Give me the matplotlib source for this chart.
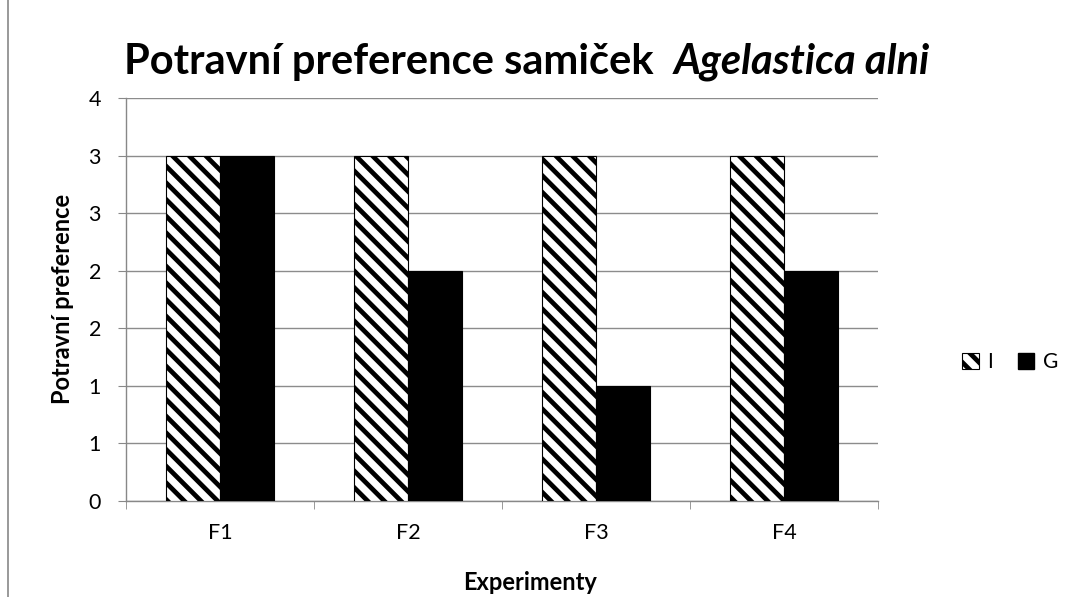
import matplotlib
matplotlib.use("Agg")
import matplotlib.pyplot as plt
import matplotlib.patches as mpatches
import numpy as np

plt.rcParams['font.family'] = ['Lato', 'DejaVu Sans']
plt.rcParams['hatch.linewidth'] = 3.4

# data
categories = ['F1', 'F2', 'F3', 'F4']
series_names = ['I', 'G']
values_I = [3.0, 3.0, 3.0, 3.0]
values_G = [3.0, 2.0, 1.0, 2.0]
y_ticks = [0, 0.5, 1.0, 1.5, 2.0, 2.5, 3.0, 3.5]
y_tick_labels = ['0', '1', '1', '2', '2', '3', '3', '4']

fig = plt.figure(figsize=(10.86, 5.97), dpi=100)
ax = fig.add_axes([126 / 1086, 96 / 597, 752 / 1086, 403 / 597])

x = np.arange(len(categories))
width = 1 / 3.5
ax.bar(x - width / 2, values_I, width, facecolor='white', edgecolor='black',
       hatch='\\\\', linewidth=0.8, label=series_names[0], zorder=3)
ax.bar(x + width / 2, values_G, width, color='black', edgecolor='black',
       linewidth=0.8, label=series_names[1], zorder=3)

ax.set_xlim(-0.5, len(categories) - 0.5)
ax.set_ylim(0, 3.5)
ax.set_yticks(y_ticks)
ax.set_yticklabels(y_tick_labels)
ax.set_xticks(x)
ax.set_xticklabels(categories)
ax.set_xticks(np.arange(-0.5, len(categories)), minor=True)
ax.tick_params(axis='x', which='major', length=0, pad=16, labelsize=15.5)
ax.tick_params(axis='x', which='minor', length=6, color='#888888', direction='out')
ax.tick_params(axis='y', length=6, color='#888888', pad=12, labelsize=15.5)

ax.grid(axis='y', color='#8c8c8c', linewidth=1.0, zorder=0)
for s in ['top', 'right']:
    ax.spines[s].set_visible(False)
for s in ['left', 'bottom']:
    ax.spines[s].set_color('#888888')
    ax.spines[s].set_linewidth(1.0)

fig.text(63 / 1086, 1 - 299 / 597, 'Potravní preference', rotation=90,
         ha='center', va='center', fontsize=17, fontweight='bold')
fig.text(530 / 1086, 1 - 583 / 597, 'Experimenty', ha='center', va='center',
         fontsize=17, fontweight='bold')

# title in two parts (bold + bold italic species name)
t1 = fig.text(124 / 1086, 1 - 62 / 597, 'Potravní preference samiček  ',
              ha='left', va='center', fontsize=30, fontweight='bold')
fig.canvas.draw()
bb = t1.get_window_extent()
fig.text(bb.x1 / fig.bbox.width, 1 - 62 / 597, 'Agelastica alni', ha='left',
         va='center', fontsize=30, fontweight='bold', style='italic')

# outer chart frame (only left and top edges visible)
fig.patches.append(mpatches.Rectangle((8 / 1086, -0.2), 2, 1.2 + 1 - 10 / 597,
                                      transform=fig.transFigure, fill=False,
                                      edgecolor='#888888', linewidth=1.2))

h1 = mpatches.Patch(facecolor='white', edgecolor='black', hatch='\\\\', linewidth=0.8)
h2 = mpatches.Patch(facecolor='black', edgecolor='black')
fig.legend([h1, h2], series_names, loc='center left',
           bbox_to_anchor=(962 / 1086, 1 - 362 / 597), ncol=2, frameon=False,
           fontsize=15, handlelength=0.8, handleheight=0.8, columnspacing=1.2,
           handletextpad=0.4, borderpad=0, borderaxespad=0)

fig.savefig('out.png', dpi=100)
